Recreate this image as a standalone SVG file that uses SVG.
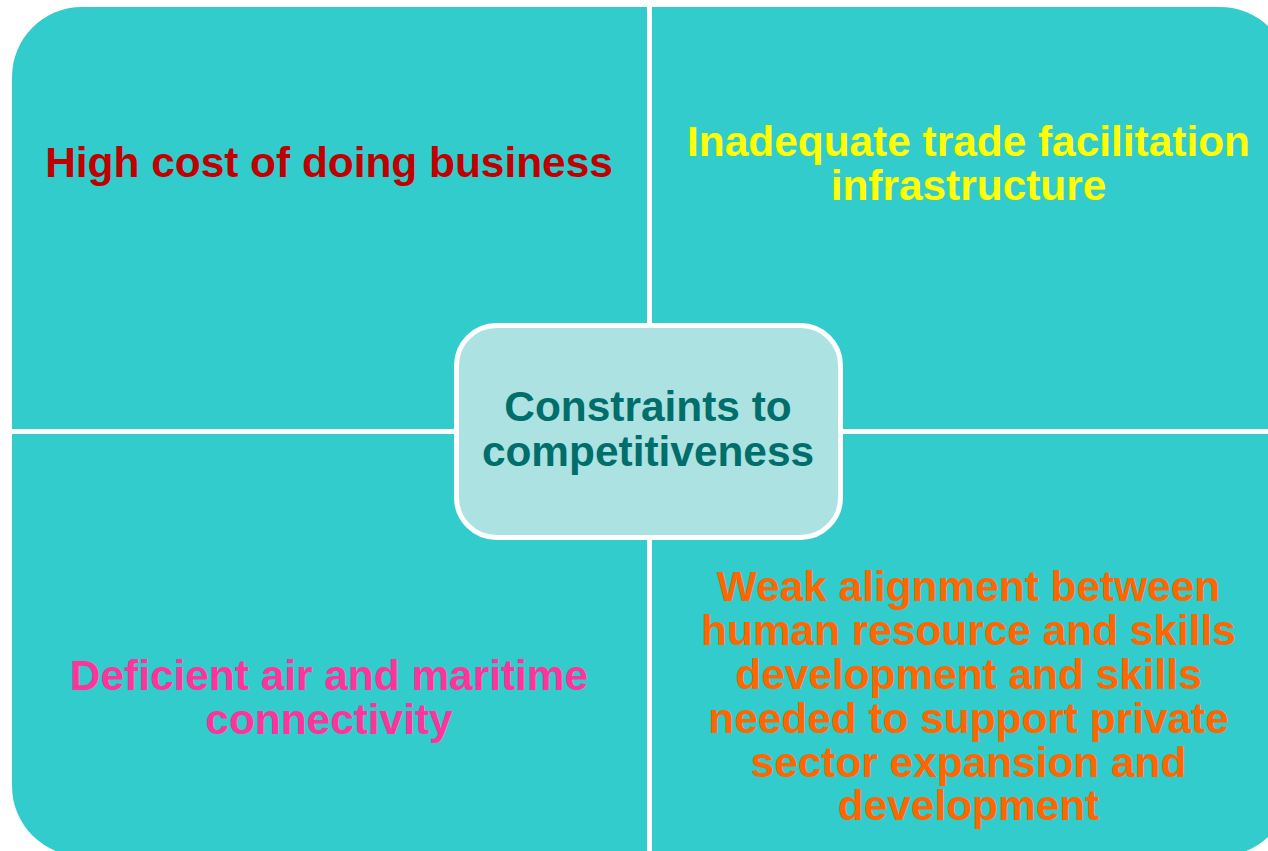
<svg xmlns="http://www.w3.org/2000/svg" width="1268" height="851" viewBox="0 0 1268 851">
<style>
.q{fill:#33CCCC;}
.t{font-family:"Liberation Sans",Arial,sans-serif;font-weight:bold;font-size:42.4px;text-anchor:middle;}
</style>
<rect width="1268" height="851" fill="#FFFFFF"/>
<g id="connectors"></g>
<g id="node-tl">
<path class="q" d="M12,429 V77 A70,70 0 0 1 82,7 H647 V429 Z"/>
<text class="t" x="329" y="177" fill="#C00000">High cost of doing business</text>
</g>
<g id="node-tr">
<path class="q" d="M652,7 H1220 A70,70 0 0 1 1290,77 V429 H652 Z"/>
<text class="t" fill="#FFFF00"><tspan x="968.5" y="156">Inadequate trade facilitation</tspan><tspan x="968.5" y="199.5">infrastructure</tspan></text>
</g>
<g id="node-bl">
<path class="q" d="M12,434 H647 V856 H82 A70,70 0 0 1 12,786 Z"/>
<text class="t" fill="#FF3399"><tspan x="329" y="690">Deficient air and maritime</tspan><tspan x="329" y="734">connectivity</tspan></text>
</g>
<g id="node-br">
<path class="q" d="M652,434 H1290 V786 A70,70 0 0 1 1220,856 H652 Z"/>
<text class="t" fill="#FF6600"><tspan x="968.5" y="601">Weak alignment between</tspan><tspan x="968.5" y="645">human resource and skills</tspan><tspan x="968.5" y="688.5">development and skills</tspan><tspan x="968.5" y="732.5">needed to support private</tspan><tspan x="968.5" y="776.5">sector expansion and</tspan><tspan x="968.5" y="820">development</tspan></text>
</g>
<g id="node-center">
<rect x="456.5" y="325.5" width="384" height="212" rx="40" ry="40" fill="#ADE2E2" stroke="#FFFFFF" stroke-width="5"/>
<text class="t" fill="#006E6A"><tspan x="648" y="421">Constraints to</tspan><tspan x="648" y="466">competitiveness</tspan></text>
</g>
</svg>
